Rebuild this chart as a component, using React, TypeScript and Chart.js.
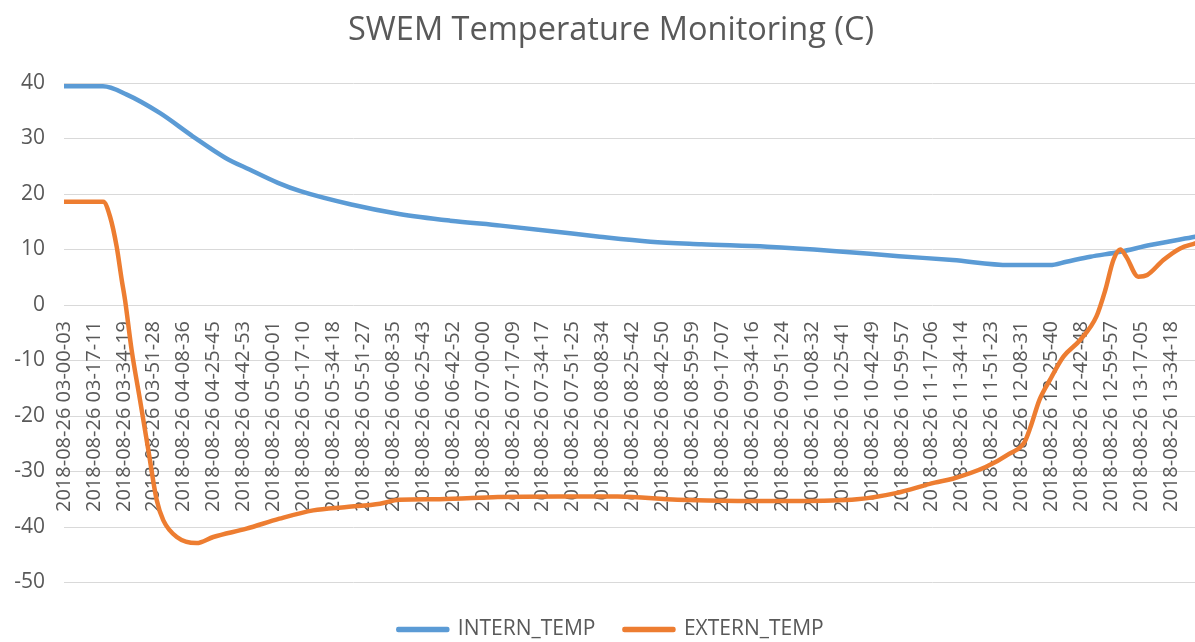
import React, { useEffect, useRef } from 'react';
import { Chart, registerables } from 'chart.js';

Chart.register(...registerables);

const timeLabels = [
  '2018-08-26 03-00-03', '2018-08-26 03-17-11', '2018-08-26 03-34-19', '2018-08-26 03-51-28',
  '2018-08-26 04-08-36', '2018-08-26 04-25-45', '2018-08-26 04-42-53', '2018-08-26 05-00-01',
  '2018-08-26 05-17-10', '2018-08-26 05-34-18', '2018-08-26 05-51-27', '2018-08-26 06-08-35',
  '2018-08-26 06-25-43', '2018-08-26 06-42-52', '2018-08-26 07-00-00', '2018-08-26 07-17-09',
  '2018-08-26 07-34-17', '2018-08-26 07-51-25', '2018-08-26 08-08-34', '2018-08-26 08-25-42',
  '2018-08-26 08-42-50', '2018-08-26 08-59-59', '2018-08-26 09-17-07', '2018-08-26 09-34-16',
  '2018-08-26 09-51-24', '2018-08-26 10-08-32', '2018-08-26 10-25-41', '2018-08-26 10-42-49',
  '2018-08-26 10-59-57', '2018-08-26 11-17-06', '2018-08-26 11-34-14', '2018-08-26 11-51-23',
  '2018-08-26 12-08-31', '2018-08-26 12-25-40', '2018-08-26 12-42-48', '2018-08-26 12-59-57',
  '2018-08-26 13-17-05', '2018-08-26 13-34-18',
];

// sample positions are in units of label steps (0 = first label)
const internIdx = [0, 1.3, 2.1, 3.2, 4.3, 5.4, 6.2, 7.15, 7.9, 9.6, 11.2, 12.9, 14.6, 16.3, 17.9, 19.6, 21.3, 23.5, 25.7, 27.9, 29.7, 31.6, 32.95, 33.5, 34.3, 35.3, 36.3, 37.8];
const internTemp = [39.4, 39.4, 37.9, 34.6, 30.4, 26.5, 24.4, 22.0, 20.5, 18.1, 16.4, 15.2, 14.3, 13.3, 12.3, 11.4, 10.95, 10.5, 9.75, 8.8, 8.1, 7.2, 7.2, 7.8, 8.7, 9.6, 10.8, 12.3];

const externIdx = [0, 1.31, 1.54, 1.76, 1.93, 2.04, 2.26, 2.54, 2.82, 3.1, 3.32, 3.77, 4.43, 4.99, 6.1, 7.2, 8.33, 9.45, 10.56, 11.2, 12.55, 14.5, 16.5, 18.5, 20.5, 22.5, 24.5, 26.5, 27.8, 29.1, 29.7, 30.8, 31.6, 32.1, 32.3, 32.6, 32.95, 33.4, 33.96, 34.5, 34.8, 35.07, 35.3, 35.5, 35.9, 36.2, 36.74, 37.3, 37.8];
const externTemp = [18.6, 18.6, 15.9, 10.5, 4.5, 0.9, -8.1, -17.1, -26.2, -35.2, -38.8, -41.8, -42.9, -41.8, -40.3, -38.5, -37.0, -36.4, -35.8, -35.1, -35.0, -34.6, -34.5, -34.5, -35.1, -35.3, -35.3, -35.0, -33.9, -32.0, -31.3, -29.2, -26.8, -24.7, -22.0, -17.1, -13.5, -9.3, -6.3, -2.1, 2.7, 8.1, 10.0, 8.7, 5.1, 5.4, 8.1, 10.2, 11.1];

const BLUE = '#5B9BD5';
const ORANGE = '#ED7D31';
const TEXT = '#595959';
const GRID = '#D9D9D9';
const FONT = "'Open Sans', 'Liberation Sans', sans-serif";

export default function App() {
  const ref = useRef<HTMLCanvasElement>(null);

  useEffect(() => {
    document.body.style.margin = '0';
    const canvas = ref.current;
    if (!canvas) return;
    const chart = new Chart(canvas, {
      type: 'line',
      data: {
        datasets: [
          {
            label: 'INTERN_TEMP',
            data: internIdx.map((x, i) => ({ x, y: internTemp[i] })),
            borderColor: BLUE,
            backgroundColor: BLUE,
            borderWidth: 4.5,
            pointRadius: 0,
            cubicInterpolationMode: 'monotone',
            borderCapStyle: 'round',
            borderJoinStyle: 'round',
            order: 1,
          },
          {
            label: 'EXTERN_TEMP',
            data: externIdx.map((x, i) => ({ x, y: externTemp[i] })),
            borderColor: ORANGE,
            backgroundColor: ORANGE,
            borderWidth: 4.5,
            pointRadius: 0,
            cubicInterpolationMode: 'monotone',
            borderCapStyle: 'round',
            borderJoinStyle: 'round',
            order: 0,
          },
        ],
      },
      options: {
        responsive: false,
        animation: false,
        layout: { padding: 0 },
        scales: {
          x: {
            type: 'linear',
            position: { y: 0 },
            min: 0,
            max: 38.7,
            grid: { display: false, drawTicks: false },
            border: { display: false },
            afterBuildTicks: (scale: any) => {
              scale.ticks = timeLabels.map((_, i) => ({ value: i }));
            },
            ticks: {
              autoSkip: false,
              minRotation: 90,
              maxRotation: 90,
              padding: 16,
              color: TEXT,
              font: { family: FONT, size: 20 },
              callback: (v: any) => timeLabels[Math.round(Number(v))] ?? '',
            },
          },
          y: {
            min: -50,
            max: 40,
            ticks: { stepSize: 10, padding: 19, color: TEXT, font: { family: FONT, size: 21 } },
            grid: { color: GRID, lineWidth: 1, drawTicks: false },
            border: { display: false },
            afterFit: (s: any) => { s.width = 64; },
          },
          pad: {
            type: 'linear',
            position: 'bottom',
            display: true,
            ticks: { display: false },
            grid: { display: false, drawTicks: false },
            border: { display: false },
            afterFit: (s: any) => { s.height = 7.5; },
          },
        },
        plugins: {
          title: {
            display: true,
            text: 'SWEM Temperature Monitoring (C)',
            color: TEXT,
            font: { family: FONT, size: 32.5, weight: 'normal' },
            padding: { top: 11.5, bottom: 32.5 },
          },
          legend: {
            display: true,
            position: 'bottom',
            labels: {
              boxWidth: 49,
              boxHeight: 1,
              padding: 29,
              color: TEXT,
              font: { family: FONT, size: 21 },
              sort: (a: any, b: any) => a.datasetIndex - b.datasetIndex,
            },
          },
          tooltip: { enabled: false },
        },
      } as any,
    });
    return () => chart.destroy();
  }, []);

  return (
    <div style={{ position: 'fixed', left: 0, top: 0, width: 1195, height: 642, overflow: 'hidden', background: '#fff' }}>
      <canvas ref={ref} width={1222} height={650} style={{ display: 'block' }} />
    </div>
  );
}
